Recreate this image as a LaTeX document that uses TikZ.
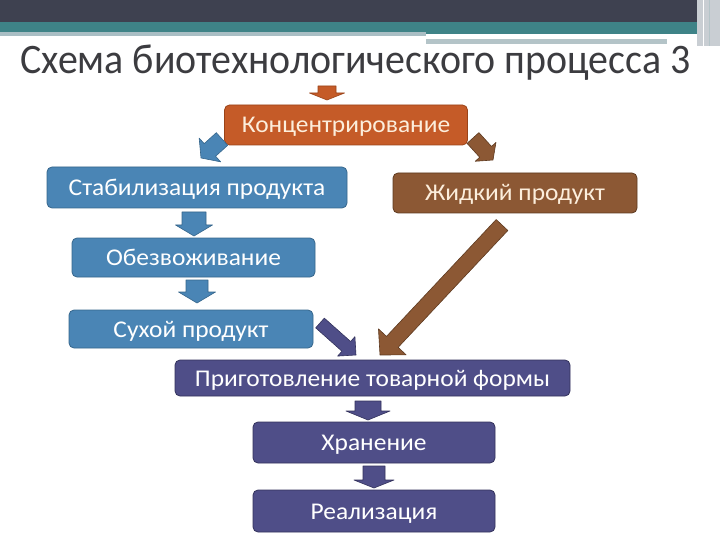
\documentclass[tikz,border=0pt]{standalone}
\usepackage{fontspec}
\setmainfont{Carlito}
\usetikzlibrary{calc}
\definecolor{hdark}{HTML}{3E4150}
\definecolor{hteal}{HTML}{3E8387}
\definecolor{hlight}{HTML}{A9BEC4}
\definecolor{hgray}{HTML}{B4C4C8}
\definecolor{hside}{HTML}{C9CED3}
\definecolor{titlec}{HTML}{3C3C40}
\definecolor{orf}{HTML}{C55B28}
\definecolor{ord}{HTML}{9A4318}
\definecolor{blf}{HTML}{4A85B5}
\definecolor{bld}{HTML}{36668C}
\definecolor{brf}{HTML}{8C5834}
\definecolor{brd}{HTML}{5E3A20}
\definecolor{puf}{HTML}{4F4E88}
\definecolor{pud}{HTML}{33325C}
\definecolor{cream}{HTML}{FCEEDC}
\newcommand\blockarrow[6][]{%
  \coordinate (ba-h) at ($(#3)!#6!(#2)$);
  \draw[#1] ($(#2)!#4!90:(#3)$) -- ($(ba-h)!#4!-90:(#2)$) -- ($(ba-h)!#5!-90:(#2)$)
    -- (#3) -- ($(ba-h)!#5!90:(#2)$) -- ($(ba-h)!#4!90:(#2)$) -- ($(#2)!#4!-90:(#3)$) -- cycle;}
\newcommand\bt[1]{\scalebox{1.06}[1]{#1}}
\tikzset{
  box/.style={rounded corners=5pt, line width=0.8pt, inner sep=0pt,
    text height=17pt, text depth=1pt,
    font=\fontsize{24}{24}\selectfont},
  obox/.style={box, fill=orf, draw=ord, text=cream},
  bbox/.style={box, fill=blf, draw=bld, text=white},
  rbox/.style={box, fill=brf, draw=brd, text=cream},
  pbox/.style={box, fill=puf, draw=pud, text=white},
  oarr/.style={fill=orf, draw=ord, line width=0.6pt, line join=round},
  barr/.style={fill=blf, draw=bld, line width=0.6pt, line join=round},
  rarr/.style={fill=brf, draw=brd, line width=0.6pt, line join=round},
  parr/.style={fill=puf, draw=pud, line width=0.6pt, line join=round},
}
\begin{document}
\begin{tikzpicture}[x=1pt,y=-1pt]
\useasboundingbox (0,0) rectangle (720,540);
\fill[white] (0,0) rectangle (720,540);
% header
\fill[hdark] (0,0) rectangle (700,22);
\fill[hteal] (0,22) rectangle (700,32);
\fill[hlight] (0,32) rectangle (426,36);
\fill[hteal] (426,32) rectangle (700,34);
\fill[hgray] (426,39) rectangle (667,44);
\fill[hside] (697,0) rectangle (720,46);
\draw[white, line width=1pt] (703,0) -- (703,46);
\draw[hgray, line width=1pt] (709,0) -- (709,46);
% title
\node[anchor=base west, inner sep=0pt, text=titlec,
  font=\fontsize{42}{42}\selectfont] (title) at (20,74) {\scalebox{0.95}[1]{Схема биотехнологического процесса 3}};
% boxes
\node[obox, minimum width=243pt, minimum height=40pt] (konc) at (346,125) {\bt{Концентрирование}};
\node[bbox, minimum width=300pt, minimum height=41pt] (stab) at (197,187.5) {\bt{Стабилизация продукта}};
\node[rbox, minimum width=244pt, minimum height=40pt] (zhid) at (515,193) {\bt{Жидкий продукт}};
\node[bbox, minimum width=243pt, minimum height=39pt] (obez) at (193.5,257.5) {\bt{Обезвоживание}};
\node[bbox, minimum width=244pt, minimum height=38pt] (sukh) at (191,329) {\bt{Сухой продукт}};
\node[pbox, minimum width=395pt, minimum height=36pt] (prig) at (372.5,378) {\bt{Приготовление товарной формы}};
\node[pbox, minimum width=242pt, minimum height=41pt] (khran) at (374,442.5) {\bt{Хранение}};
\node[pbox, minimum width=242pt, minimum height=42pt] (real) at (374,511) {\bt{Реализация}};
% arrow end points
\coordinate (a0s) at (327,86);   \coordinate (a0e) at (327,100);
\coordinate (a1s) at (222,139);  \coordinate (a1e) at (201,158);
\coordinate (a2s) at (473,138);  \coordinate (a2e) at (493,160);
\coordinate (a3s) at (194,212);  \coordinate (a3e) at (194,236);
\coordinate (a4s) at (197,280);  \coordinate (a4e) at (197,303);
\coordinate (a5s) at (320,323);  \coordinate (a5e) at (356,355);
\coordinate (a6s) at (502,225);  \coordinate (a6e) at (380,355);
\coordinate (a7s) at (368,401);  \coordinate (a7e) at (368,420);
\coordinate (a8s) at (374,466);  \coordinate (a8e) at (374,488);
% block arrows
\blockarrow[oarr]{a0s}{a0e}{9pt}{17.5pt}{7pt}
\blockarrow[barr]{a1s}{a1e}{8.5pt}{16pt}{12pt}
\blockarrow[rarr]{a2s}{a2e}{8pt}{14pt}{11pt}
\blockarrow[barr]{a3s}{a3e}{12pt}{18.5pt}{11pt}
\blockarrow[barr]{a4s}{a4e}{11pt}{18.5pt}{11pt}
\blockarrow[parr]{a5s}{a5e}{6.5pt}{13pt}{13pt}
\blockarrow[rarr]{a6s}{a6e}{8pt}{19pt}{18pt}
\blockarrow[parr]{a7s}{a7e}{13pt}{22pt}{9pt}
\blockarrow[parr]{a8s}{a8e}{11pt}{20pt}{8pt}
\end{tikzpicture}
\end{document}
